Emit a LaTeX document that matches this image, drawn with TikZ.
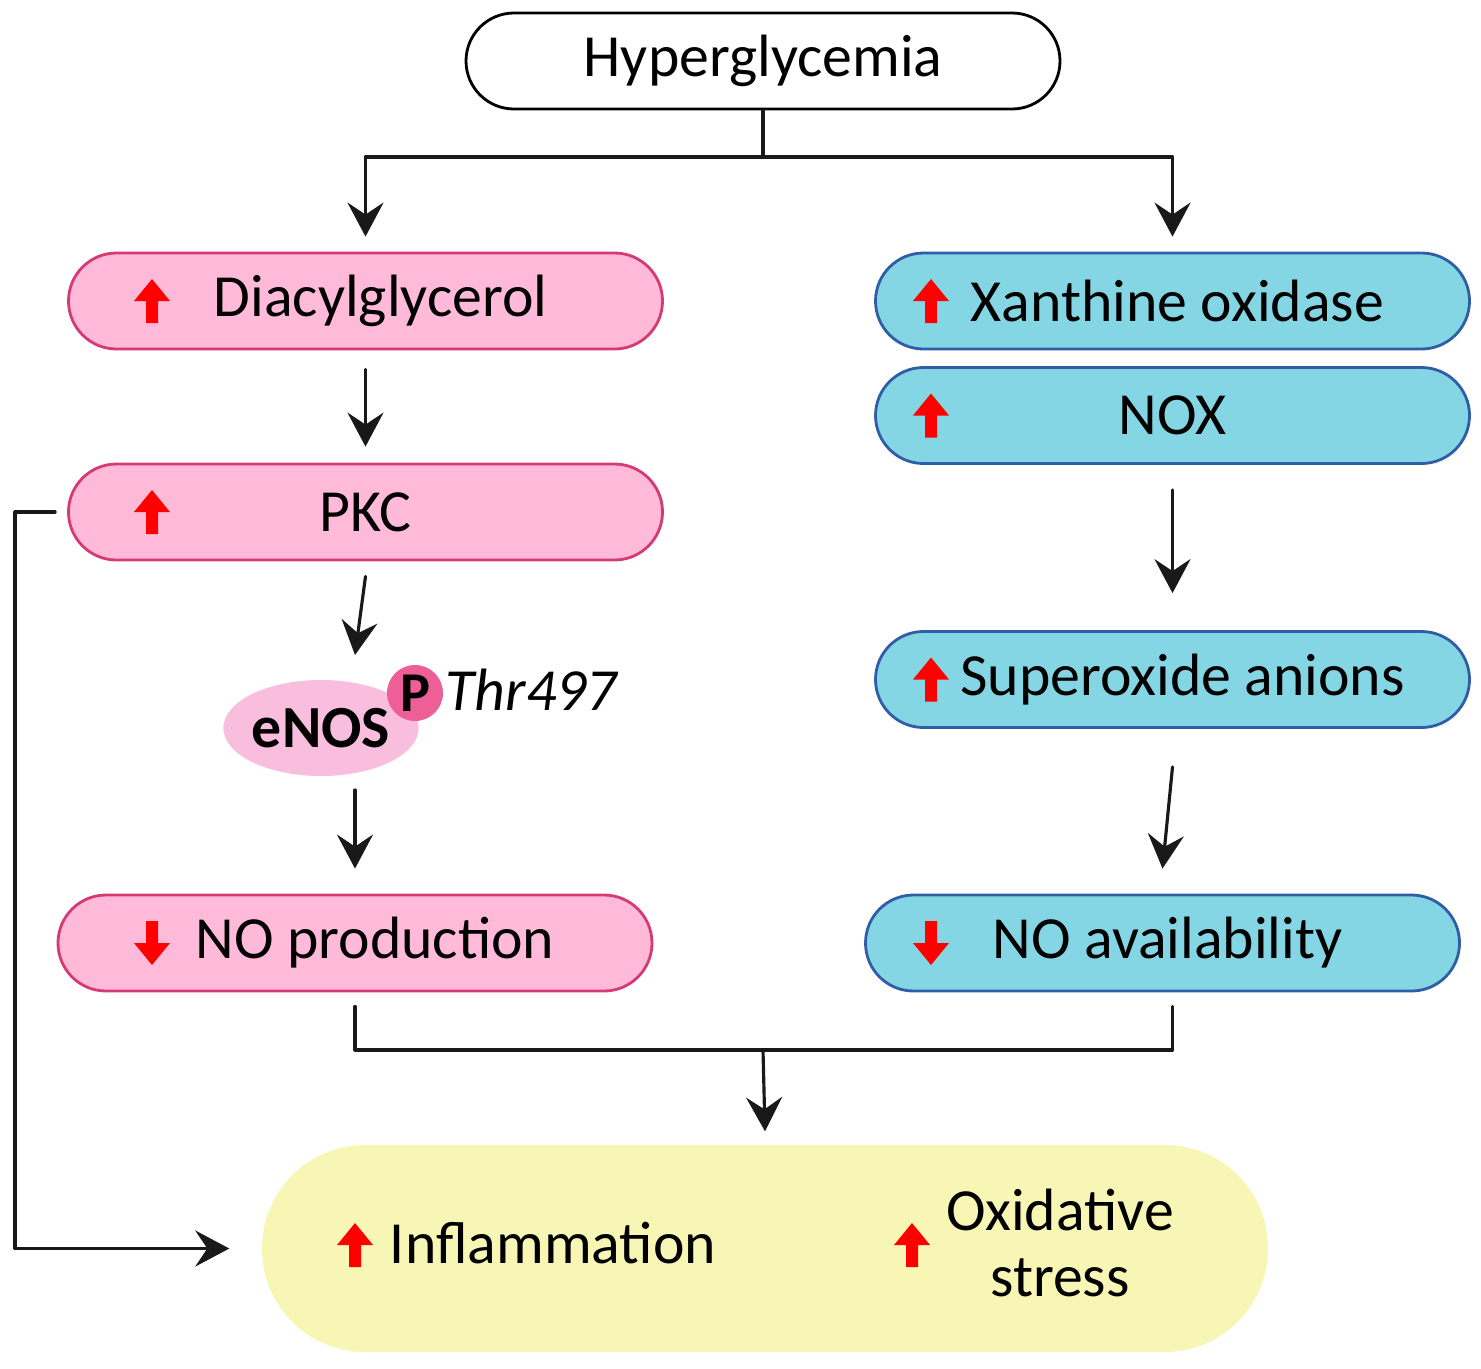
\documentclass[tikz,border=0pt]{standalone}
\usepackage{fontspec}
\setmainfont{Carlito}
\usepackage{xcolor}
\usetikzlibrary{positioning,arrows.meta,shapes}

\definecolor{pinkfill}{HTML}{FFBAD9}
\definecolor{pinkdraw}{HTML}{D63A74}
\definecolor{bluefill}{HTML}{85D6E5}
\definecolor{bluedraw}{HTML}{2F5DA6}
\definecolor{yellowfill}{HTML}{F8F6B4}
\definecolor{enosfill}{HTML}{F9BDDD}
\definecolor{pfill}{HTML}{EE5E97}

\begin{document}
\begin{tikzpicture}[
    box/.style = {
        rectangle,
        rounded corners=0.48cm,
        line width=0.8pt,
        minimum width=5.94cm,
        minimum height=0.96cm,
        align=center,
        inner sep=0pt,
        font=\fontsize{17}{20}\selectfont
    },
    topbox/.style   = {box, fill=white, draw=black},
    pinkbox/.style  = {box, fill=pinkfill, draw=pinkdraw},
    bluebox/.style  = {box, fill=bluefill, draw=bluedraw},
    arrow/.style    = {-{Stealth[length=0.34cm,width=0.36cm,inset=0.12cm]}, line width=0.9pt, draw=black!90},
    link/.style     = {line width=0.9pt, draw=black!90},
    lbl/.style      = {inner sep=0pt, font=\fontsize{17}{20}\selectfont},
    redup/.pic      = {\fill[red] (-0.06,-0.22) -- (0.06,-0.22) -- (0.06,0) -- (0.18,0) -- (0,0.22) -- (-0.18,0) -- (-0.06,0) -- cycle;},
    reddown/.pic    = {\fill[red] (-0.06,0.22) -- (0.06,0.22) -- (0.06,0) -- (0.18,0) -- (0,-0.22) -- (-0.18,0) -- (-0.06,0) -- cycle;},
    line cap=round, line join=round
]
\useasboundingbox (0,0) rectangle (14.81,-13.68);

% Top
\node[topbox] (hyper) at (7.63,-0.61) {Hyperglycemia};

% Left column
\node[pinkbox] (dag) at (3.655,-3.01) {\hspace*{0.3cm}Diacylglycerol};
\node[pinkbox] (pkc) at (3.655,-5.12) {PKC};
\node[ellipse, fill=enosfill, minimum width=1.42cm, minimum height=0.96cm, inner sep=0pt,
      font=\fontsize{17}{20}\selectfont\bfseries] (enos) at (3.21,-7.28) {eNOS};
\node[circle, fill=pfill, minimum size=0.56cm, inner sep=0pt,
      font=\fontsize{16}{18}\selectfont\bfseries] (phos) at (4.15,-6.93) {P};
\node[lbl, anchor=west, font=\fontsize{17}{20}\selectfont\itshape] (thr) at (4.45,-6.9) {Thr497};
\node[pinkbox] (noprod) at (3.55,-9.43) {\hspace*{0.4cm}NO production};

% Right column
\node[bluebox] (xo) at (11.725,-3.01) {\hspace*{0.1cm}Xanthine oxidase};
\node[bluebox] (nox) at (11.725,-4.155) {NOX};
\node[bluebox] (supox) at (11.725,-6.795) {\hspace*{0.2cm}Superoxide anions};
\node[bluebox] (noavail) at (11.625,-9.43) {\hspace*{0.1cm}NO availability};

% Bottom
\node[rectangle, rounded corners=1.03cm, fill=yellowfill, minimum width=10.06cm,
      minimum height=2.07cm, inner sep=0pt] (outcome) at (7.65,-12.485) {};
\node[lbl] (infl) at (5.53,-12.43) {Inflammation};
\node[lbl, align=center, font=\fontsize{17}{19}\selectfont] (oxst) at (10.6,-12.43) {Oxidative\\stress};

% Red indicators
\pic at (1.52,-3.01) {redup};
\pic at (1.52,-5.12) {redup};
\pic at (1.52,-9.43) {reddown};
\pic at (9.31,-3.01) {redup};
\pic at (9.31,-4.155) {redup};
\pic at (9.31,-6.795) {redup};
\pic at (9.31,-9.43) {reddown};
\pic at (3.55,-12.45) {redup};
\pic at (9.12,-12.45) {redup};

% Split from top
\coordinate (split) at (7.63,-1.57);
\draw[link] (hyper.south) -- (split);
\draw[arrow] (split) -| ([yshift=0.15cm]dag.north);
\draw[arrow] (split) -| ([yshift=0.15cm]xo.north);

% Left flow
\draw[arrow] ([yshift=-0.19cm]dag.south) -- ([yshift=0.16cm]pkc.north);
\draw[arrow] ([yshift=-0.15cm]pkc.south) -- (3.55,-6.55);
\draw[arrow] (3.55,-7.9) -- ([xshift=0pt,yshift=0.25cm]noprod.north);

% Right flow
\draw[arrow] ([yshift=-0.25cm]nox.south) -- ([yshift=0.37cm]supox.north);
\draw[arrow] ([yshift=-0.38cm]supox.south) -- ([yshift=0.25cm]noavail.north);

% Merge
\coordinate (merge) at (7.63,-10.5);
\draw[link] ([yshift=-0.14cm]noprod.south) |- (merge) -| ([xshift=0.1cm,yshift=-0.14cm]noavail.south);
\draw[arrow] (merge) -- ([yshift=0.13cm]outcome.north);

% Feedback from PKC
\draw[arrow] ([xshift=-0.12cm]pkc.west) -- (0.15,-5.12) |- ([xshift=-0.32cm]outcome.west);

\end{tikzpicture}
\end{document}
